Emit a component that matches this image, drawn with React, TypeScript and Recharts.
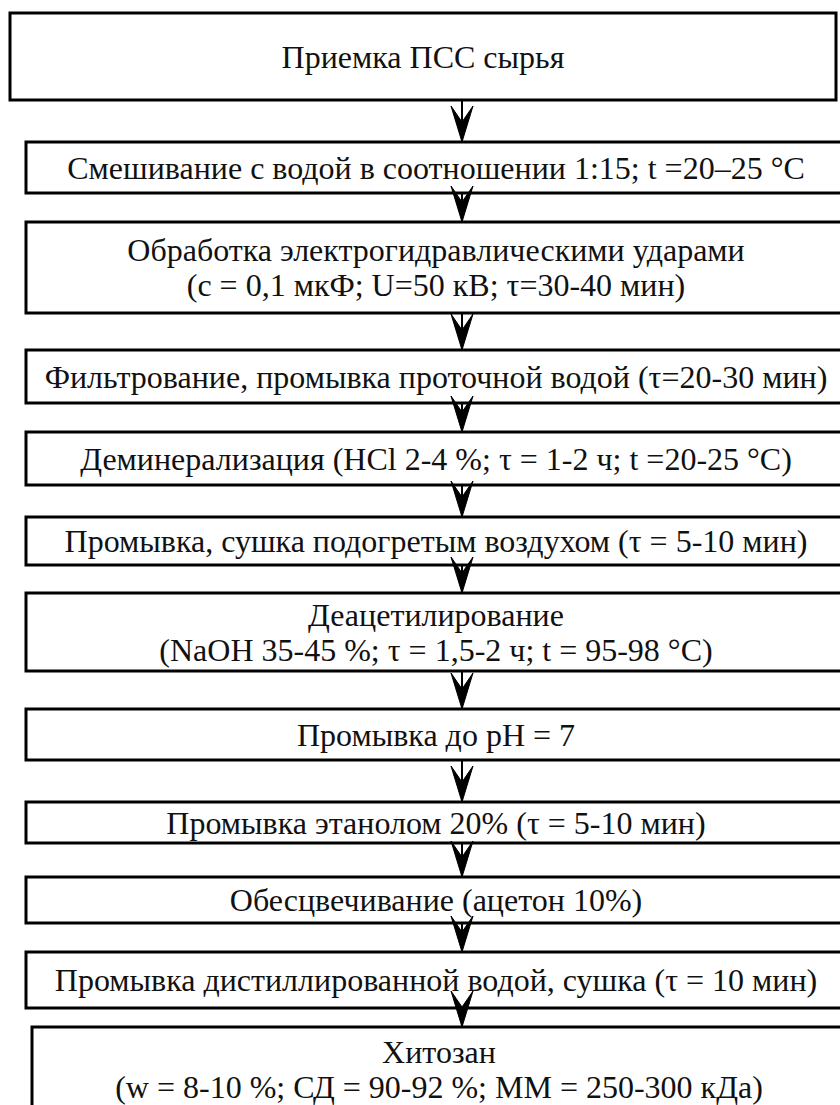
import React from 'react';
import { ComposedChart, XAxis, YAxis, ReferenceArea, ReferenceLine, Scatter } from 'recharts';

const stepLabels: string[][] = [
  ['Приемка ПСС сырья'],
  ['Смешивание с водой в соотношении 1:15; t =20–25 °C'],
  ['Обработка электрогидравлическими ударами', '(с = 0,1 мкФ; U=50 кВ; τ=30-40 мин)'],
  ['Фильтрование, промывка проточной водой (τ=20-30 мин)'],
  ['Деминерализация (HCl 2-4 %; τ = 1-2 ч; t =20-25 °C)'],
  ['Промывка, сушка подогретым воздухом (τ = 5-10 мин)'],
  ['Деацетилирование', '(NaOH 35-45 %; τ = 1,5-2 ч; t = 95-98 °C)'],
  ['Промывка до pH = 7'],
  ['Промывка этанолом 20% (τ = 5-10 мин)'],
  ['Обесцвечивание (ацетон 10%)'],
  ['Промывка дистиллированной водой, сушка (τ = 10 мин)'],
  ['Хитозан', '(w = 8-10 %; СД = 90-92 %; ММ = 250-300 кДа)'],
];

// vertical extent of each step box (chart units)
const boxTop = [13, 142, 222, 350, 432, 517, 593, 709, 802, 877, 952, 1027];
const boxBottom = [100, 193, 313, 403, 485, 565, 671, 760, 843, 923, 1008, 1112];
// horizontal extent of each step box
const boxLeft = [10, 26, 26, 26, 26, 26, 26, 26, 26, 26, 26, 32];
const boxRight = [836, 846, 846, 846, 846, 846, 846, 846, 846, 846, 846, 846];

const arrowX = 462;

const W = 840;
const H = 1105;
const FONT = '"Liberation Serif", "Times New Roman", serif';
const FS = 32;
const LINE = 35;

const arrowTips = boxTop.slice(1).map((t) => ({ x: arrowX, y: t }));
const arrowSegments = boxTop.slice(1).map((t, i) => ({ from: boxBottom[i], to: t }));

const makeBoxShape = (lines: string[]) => (props: any) => {
  const { x, y, width, height } = props;
  const cx = x + width / 2;
  const cy = y + height / 2;
  const n = lines.length;
  return (
    <g>
      <rect x={x} y={y} width={width} height={height} fill="#fff" stroke="#000" strokeWidth={3} />
      {lines.map((ln, k) => (
        <text
          key={k}
          x={cx}
          y={cy + (k - (n - 1) / 2) * LINE}
          textAnchor="middle"
          dominantBaseline="central"
          fontFamily={FONT}
          fontSize={FS}
          fill="#111"
        >
          {ln}
        </text>
      ))}
    </g>
  );
};

const ArrowHead = (props: any) => {
  const { cx, cy } = props;
  if (cx == null || cy == null) return null;
  const d = `M ${cx} ${cy} L ${cx - 11} ${cy - 36} L ${cx} ${cy - 20} L ${cx + 11} ${cy - 36} Z`;
  return <path d={d} fill="#000" stroke="#000" strokeWidth={1} strokeLinejoin="miter" />;
};

export default function App() {
  return (
    <div style={{ position: 'absolute', left: 0, top: 0, width: W, height: H, background: '#fff' }}>
      <ComposedChart width={W} height={H} margin={{ top: 0, right: 0, bottom: 0, left: 0 }}>
        <XAxis type="number" dataKey="x" domain={[0, W]} hide allowDataOverflow />
        <YAxis type="number" dataKey="y" domain={[0, H]} reversed hide allowDataOverflow />
        {stepLabels.map((lines, i) => (
          <ReferenceArea
            key={'b' + i}
            x1={boxLeft[i]}
            x2={boxRight[i]}
            y1={boxTop[i]}
            y2={boxBottom[i]}
            ifOverflow="visible"
            shape={makeBoxShape(lines)}
          />
        ))}
        {arrowSegments.map((s, i) => (
          <ReferenceLine
            key={'a' + i}
            segment={[
              { x: arrowX, y: s.from },
              { x: arrowX, y: s.to },
            ]}
            stroke="#000"
            strokeWidth={2}
            ifOverflow="visible"
          />
        ))}
        <Scatter data={arrowTips} shape={<ArrowHead />} isAnimationActive={false} />
      </ComposedChart>
    </div>
  );
}
